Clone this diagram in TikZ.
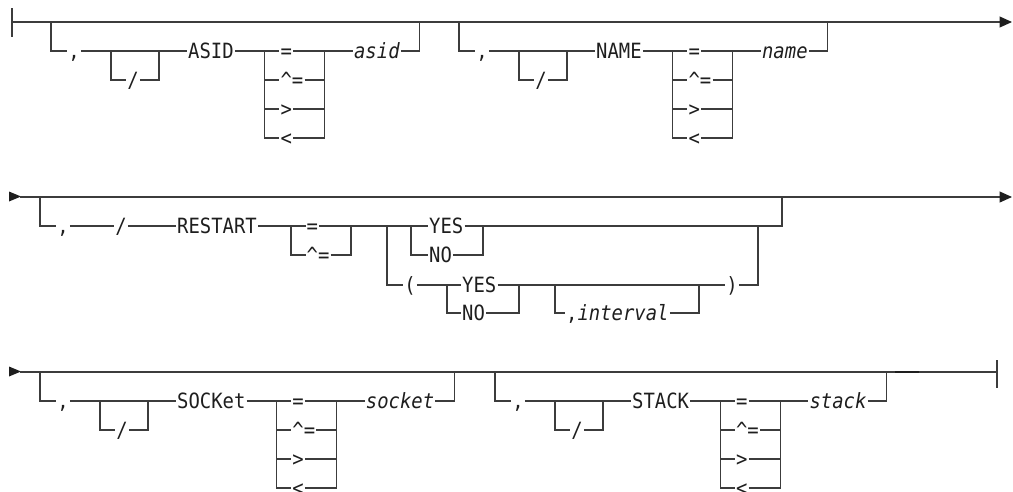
\documentclass[tikz,border=0pt]{standalone}
\usepackage{fontspec}
\newfontfamily\rrmono{DejaVu Sans Mono}[FakeStretch=0.9]
\usetikzlibrary{calc,arrows.meta}
\definecolor{rrline}{HTML}{3C3C3C}
\definecolor{rrtext}{HTML}{1E1E1E}
\tikzset{
  rr/.style={draw=rrline,line width=1.1pt},
  kw/.style={font={\rrmono\fontsize{21pt}{21pt}\selectfont}, text=rrtext, inner xsep=1pt, inner ysep=0pt, text height=15pt, text depth=0pt},
  var/.style={kw, font={\rrmono\itshape\fontsize{21pt}{21pt}\selectfont}},
  endtip/.style={-{Triangle[length=12.5pt,width=11pt,color=rrtext]}},
}
\newcommand{\rrgroup}[5]{%
  \coordinate (#1s) at (#2,#3);
  \coordinate (#1b) at (#2,#3+29);
  \node[kw] (#1c) at (#2+23,#3+29) {,};
  \coordinate (#1p) at (#2+60,#3+29);
  \coordinate (#1q) at (#2+108,#3+29);
  \node[kw] (#1sl) at (#2+82,#3+58) {/};
  \node[kw,anchor=west] (#1k) at (#2+136,#3+29) {#4};
  \coordinate (#1o) at ($(#1k.east)+(30,0)$);
  \coordinate (#1r) at ($(#1o)+(60,0)$);
  \node[kw,anchor=west] (#1o1) at ($(#1o)+(14.5,0)$) {=};
  \node[kw,anchor=west] (#1o2) at ($(#1o)+(14.5,29)$) {\textasciicircum=};
  \node[kw,anchor=west] (#1o3) at ($(#1o)+(14.5,58)$) {>};
  \node[kw,anchor=west] (#1o4) at ($(#1o)+(14.5,87)$) {<};
  \node[var,anchor=west] (#1v) at ($(#1r)+(28,0)$) {#5};
  \coordinate (#1u) at ($(#1v.east)+(19,0)$);
  \draw[rr] (#1s) -- (#1b) -- (#1c.west);
  \draw[rr] (#1c.east) -- (#1p) -- (#1q) -- (#1k.west);
  \draw[rr] (#1p) |- (#1sl.west);
  \draw[rr] (#1sl.east) -| (#1q);
  \draw[rr] (#1k.east) -- (#1o) -- (#1o1.west);
  \draw[rr] (#1o1.east) -- (#1r) -- (#1v.west);
  \foreach \i in {2,3,4} {
    \draw[rr] (#1o) |- (#1o\i.west);
    \draw[rr] (#1o\i.east) -| (#1r);
  }
  \draw[rr] (#1v.east) -- (#1u) -- (#1u |- #1s);
}
\begin{document}
\begin{tikzpicture}[x=1pt,y=-1pt]
\useasboundingbox (0,0) rectangle (1013,491);
\clip (0,0) rectangle (1013,491);
% ---------- row 1 ----------
\coordinate (r1a) at (12,22);
\coordinate (r1z) at (1012,22);
\draw[rr] (12,8) -- (12,37);
\draw[rr,endtip] (r1a) -- (r1z);
\rrgroup{ga}{51}{22}{ASID}{asid}
\rrgroup{gb}{459}{22}{NAME}{name}
% ---------- row 2 ----------
\fill[rrtext] (9,191.5) -- (21,196.5) -- (9,201.5) -- cycle;
\coordinate (r2a) at (20,197);
\coordinate (r2z) at (1012,197);
\draw[rr,endtip] (r2a) -- (r2z);
\coordinate (r2s) at (40,197);
\coordinate (r2b) at (40,226);
\node[kw] (r2c) at (63,226) {,};
\node[kw] (r2sl) at (121,226) {/};
\node[kw,anchor=west] (r2k) at (176,226) {RESTART};
\coordinate (r2o) at (291,226);
\coordinate (r2r) at (351,226);
\node[kw,anchor=west] (r2o1) at (305.5,226) {=};
\node[kw,anchor=west] (r2o2) at (305.5,255) {\textasciicircum=};
\coordinate (r2ch) at (387,226);
\coordinate (r2y) at (411,226);
\coordinate (r2yr) at (483,226);
\node[kw,anchor=west] (r2yes) at (428,226) {YES};
\node[kw,anchor=west] (r2no) at (428,255) {NO};
\coordinate (r2j) at (782,226);
\node[kw] (r2lp) at (410,285) {(};
\coordinate (r2iy) at (447,285);
\coordinate (r2iyr) at (519,285);
\node[kw,anchor=west] (r2yes2) at (461,285) {YES};
\node[kw,anchor=west] (r2no2) at (461,313) {NO};
\coordinate (r2ib) at (555,285);
\coordinate (r2ibr) at (699,285);
\node[kw,anchor=west] (r2int) at (565,313) {,{\itshape interval}};
\node[kw] (r2rp) at (732,285) {)};
\coordinate (r2k2) at (758,285);
\draw[rr] (r2s) -- (r2b) -- (r2c.west);
\draw[rr] (r2c.east) -- (r2sl.west);
\draw[rr] (r2sl.east) -- (r2k.west);
\draw[rr] (r2k.east) -- (r2o) -- (r2o1.west);
\draw[rr] (r2o) |- (r2o2.west);
\draw[rr] (r2o1.east) -- (r2r) -- (r2ch) -- (r2y) -- (r2yes.west);
\draw[rr] (r2o2.east) -| (r2r);
\draw[rr] (r2y) |- (r2no.west);
\draw[rr] (r2yes.east) -- (r2yr) -- (r2j) -- (r2j |- r2s);
\draw[rr] (r2no.east) -| (r2yr);
\draw[rr] (r2ch) |- (r2lp.west);
\draw[rr] (r2lp.east) -- (r2iy) -- (r2yes2.west);
\draw[rr] (r2iy) |- (r2no2.west);
\draw[rr] (r2yes2.east) -- (r2iyr) -- (r2ib) -- (r2ibr) -- (r2rp.west);
\draw[rr] (r2no2.east) -| (r2iyr);
\draw[rr] (r2ib) |- (r2int.west);
\draw[rr] (r2int.east) -| (r2ibr);
\draw[rr] (r2rp.east) -- (r2k2) -- (r2k2 |- r2j);
% ---------- row 3 ----------
\fill[rrtext] (9,366.5) -- (21,371.5) -- (9,376.5) -- cycle;
\coordinate (r3a) at (20,372);
\coordinate (r3z) at (997,372);
\draw[rr] (r3a) -- (r3z);
\draw[rr] (997,360) -- (997,388);
\draw[draw=rrtext,line width=2pt] (895,372) -- (919,372);
\rrgroup{gc}{40}{372}{SOCKet}{socket}
\rrgroup{gd}{495}{372}{STACK}{stack}
\end{tikzpicture}
\end{document}
